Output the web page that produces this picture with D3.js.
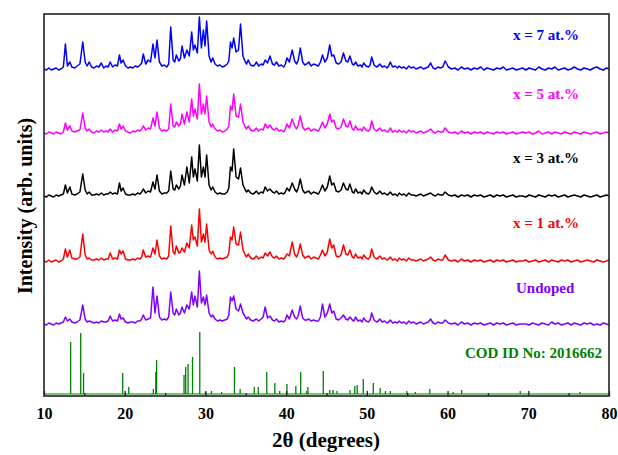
<!DOCTYPE html>
<html><head><meta charset="utf-8">
<script src="https://cdn.jsdelivr.net/npm/d3@7"></script>
<style>html,body{margin:0;padding:0;background:#fff;}svg{display:block;}</style>
</head><body><svg id="c" width="618" height="455"></svg>
<script>
// ---- DATA ----
const twoTheta = [
 10.0,10.3,10.6,10.9,11.2,11.5,11.8,12.1,12.4,
 12.65,12.9,13.2,13.45,13.8,14.1,14.45,
 14.8,15.1,15.35,15.6,15.9,16.2,16.5,16.8,17.1,17.4,17.7,17.95,
 18.2,18.5,18.8,19.1,19.35,19.55,19.8,20.1,20.4,20.7,21.0,21.3,21.6,21.9,22.1,
 22.3,22.6,22.9,23.2,23.5,23.75,24.0,24.3,24.6,24.9,25.2,25.45,
 25.7,26.0,26.2,26.4,26.7,26.9,27.1,27.4,27.7,28.0,
 28.3,28.5,28.7,29.0,29.25,29.5,29.75,29.95,30.15,30.45,30.7,
 30.9,31.2,31.5,31.8,32.1,32.4,32.7,32.9,
 33.1,33.3,33.5,33.8,34.1,34.35,34.65,34.95,35.1,35.3,35.6,35.9,36.1,
 36.3,36.6,36.9,37.15,37.4,37.7,38.0,38.3,38.55,38.8,39.1,39.4,39.7,39.9,
 40.1,40.4,40.75,41.05,41.3,41.5,41.75,42.05,42.3,42.55,42.8,43.1,43.4,43.7,44.0,44.25,
 44.5,44.8,45.1,45.4,45.65,45.9,46.2,46.5,46.8,47.1,47.4,47.65,47.9,48.2,48.4,
 48.6,48.9,49.2,49.4,49.6,49.9,50.2,50.4,50.6,50.9,51.2,51.4,51.6,51.9,52.2,52.5,52.7,52.9,53.2,53.5,53.8,
 54.0,54.3,54.6,54.9,55.2,55.5,55.8,56.1,56.4,56.7,57.0,57.3,57.6,57.9,58.2,58.5,58.8,59.1,59.4,
 59.7,60.1,60.5,60.9,61.3,61.7,62.1,62.5,62.9,63.3,63.7,64.1,64.5,64.9,65.3,65.7,66.1,66.5,66.9,67.3,67.7,68.1,68.5,68.9,69.3,
 69.7,70.1,70.5,70.9,71.3,71.7,72.1,72.5,72.9,73.3,73.7,74.1,74.5,74.9,75.3,75.7,76.1,76.5,76.9,77.3,77.7,78.1,78.5,78.9,79.3,79.7,80.0
];
const seriesNames = ["x = 7 at.%", "x = 5 at.%", "x = 3 at.%", "x = 1 at.%", "Undoped"];
const seriesColors = ["#0000ff", "#ff00ff", "#000000", "#ff0000", "#8000ff"];
const seriesOffsets = [326, 262, 199, 134, 71];
const x7 = [
 1,0,2,0,1,2,0,1,3,
 26,4,8,3,2,4,6,
 28,8,4,8,3,2,4,3,7,2,4,3,
 8,3,5,4,15,7,10,4,2,3,2,4,3,5,7,
 16,6,10,8,26,12,30,8,4,5,3,6,
 43,10,8,15,9,11,24,12,20,14,
 38,20,25,17,53,22,40,24,49,14,8,
 12,6,4,5,3,4,6,9,
 28,22,32,18,20,46,14,8,6,10,5,4,5,
 8,4,6,5,10,7,14,6,5,8,4,5,3,6,
 12,8,20,9,6,10,22,8,5,6,8,4,6,5,4,8,
 15,8,12,25,14,15,7,6,8,17,9,8,14,6,5,
 8,4,5,3,7,4,3,5,13,5,3,4,6,3,4,2,4,8,3,4,2,
 4,2,3,1,4,2,3,1,2,3,1,2,3,7,2,1,3,2,3,
 9,3,1,2,0,3,1,2,0,2,1,3,0,2,1,0,2,1,3,0,1,2,0,1,2,
 0,2,1,0,3,1,0,2,1,3,0,1,2,0,1,3,1,0,2,1,0,2,3,1,0,2,1
];
const x5 = [
 1,0,2,1,0,2,1,0,2,
 11,4,8,3,2,3,4,
 21,6,3,5,2,1,3,2,4,2,3,2,
 5,2,4,3,10,5,8,3,2,1,3,2,4,3,5,
 8,4,6,5,16,8,22,6,3,4,3,5,
 30,8,7,12,8,10,20,10,22,12,
 35,18,25,15,50,20,30,20,38,12,7,
 10,5,3,4,2,3,5,8,
 28,24,40,18,17,30,12,7,5,8,4,3,4,
 6,3,5,4,10,6,9,5,4,6,3,4,2,5,
 10,6,15,8,5,9,18,7,4,5,6,3,5,4,3,7,
 12,6,10,20,12,14,6,5,7,15,8,7,13,5,4,
 8,4,5,3,7,4,3,5,13,5,3,4,6,3,4,2,3,6,2,3,2,
 4,2,3,1,4,2,3,1,2,3,1,2,3,5,2,1,3,2,2,
 6,2,1,2,0,3,1,2,0,2,1,2,0,2,1,0,2,1,2,0,1,2,0,1,2,
 1,2,0,1,3,0,1,2,0,2,1,0,2,1,0,2,1,0,2,1,0,1,2,0,1,2,1
];
const x3 = [
 1,0,2,1,0,2,1,2,3,
 12,4,10,3,2,3,5,
 23,7,3,5,2,2,3,2,4,2,3,3,
 5,3,4,3,14,6,9,3,2,2,3,2,4,3,5,
 8,4,6,5,15,8,22,6,3,4,4,6,
 26,8,7,12,8,11,22,12,30,14,
 40,20,28,16,52,20,30,20,42,12,7,
 10,5,3,4,3,3,5,9,
 30,26,48,20,18,29,12,7,5,7,4,3,4,
 6,3,5,4,10,6,8,5,4,6,3,4,3,5,
 9,6,14,8,5,9,18,7,4,5,6,3,5,4,3,7,
 12,6,10,21,12,14,6,5,7,14,8,7,13,5,4,
 8,4,5,3,7,4,3,5,10,5,3,4,6,3,4,2,3,5,2,3,1,
 4,2,3,1,4,2,2,1,2,3,1,2,3,4,2,1,3,2,2,
 5,2,1,2,0,2,1,2,0,2,1,2,0,1,2,0,2,1,2,0,1,2,0,1,1,
 0,2,1,0,2,1,0,2,1,2,0,1,2,0,1,2,1,0,2,1,0,1,2,0,1,2,1
];
const x1 = [
 1,0,2,0,1,2,0,1,3,
 13,5,12,4,3,3,5,
 28,7,3,4,2,2,3,2,4,2,3,3,
 9,3,4,3,12,8,11,3,2,2,3,2,4,3,5,
 12,5,6,5,14,8,22,6,3,4,3,6,
 36,10,8,16,9,10,14,10,19,14,
 37,22,25,16,53,20,28,20,38,12,8,
 11,5,3,4,3,4,5,9,
 25,22,35,18,17,30,12,7,5,8,4,3,4,
 6,3,5,4,9,6,10,5,4,6,3,4,3,5,
 8,6,20,8,5,9,18,7,4,5,6,3,5,4,3,7,
 12,6,10,23,14,17,6,5,7,17,8,7,12,5,4,
 8,4,5,3,7,4,3,5,13,5,3,4,6,3,4,2,3,5,2,3,1,
 4,2,3,1,4,2,2,1,2,3,1,2,3,5,2,1,3,2,2,
 7,2,1,2,0,3,1,2,0,2,1,2,0,1,2,0,2,1,2,0,1,2,0,1,1,
 2,0,1,2,0,1,2,0,2,1,0,2,1,2,0,1,2,0,1,2,1,0,2,1,0,1,2
];
const undoped = [
 1,0,2,1,0,2,1,2,3,
 8,4,6,3,2,3,5,
 20,6,3,4,3,2,3,2,4,3,3,4,
 9,4,5,4,11,6,7,3,2,3,3,2,4,4,6,
 10,5,6,7,38,12,29,8,5,6,5,8,
 33,12,10,16,10,12,18,12,20,16,
 33,20,29,18,54,22,28,20,30,12,8,
 10,6,4,5,4,5,6,10,
 28,24,29,16,14,21,12,8,6,8,5,4,5,
 6,4,6,8,18,7,9,5,4,6,3,4,3,5,
 10,6,15,8,6,9,19,7,5,5,6,4,5,4,4,8,
 21,8,12,21,12,14,6,5,7,10,6,5,8,5,4,
 8,4,5,3,7,4,3,5,12,5,3,4,6,3,4,2,3,5,2,3,2,
 4,2,3,1,4,2,3,1,2,3,1,2,3,6,2,1,3,2,2,
 5,2,1,2,0,3,1,2,0,2,1,2,0,1,2,0,2,1,2,0,1,2,0,1,1,
 1,0,2,1,0,2,1,0,3,1,2,0,1,2,0,2,1,0,2,1,2,0,1,0,2,1,0
];
const codName = "COD ID No: 2016662";
const codColor = "#008000";
const codOffset = 2;
const codPos = [13.3,14.55,14.9,19.75,20.5,23.55,23.85,23.95,27.35,27.55,27.85,28.4,29.3,30.0,30.75,32.0,33.6,34.3,36.05,36.55,37.6,38.6,39.2,40.1,41.2,41.8,42.55,42.7,44.6,45.4,45.8,46.3,47.9,48.5,48.8,49.55,50.8,51.65,52.3,52.9,54.95,56.0,57.8,60.7,61.75,69.0,76.4];
const codInt = [52,61,21,21,7,5,22,34,19,27,30,37,62,2,3,2,27,5,7,7,22,11,3,10,8,22,3,7,23,4,4,3,4,8,9,15,11,6,3,3,3,2,5,2,4,3,2];
const xTicks = [10,20,30,40,50,60,70,80];
const xMinorTicks = [15,25,35,45,55,65,75];
const xTitle = "2θ (degrees)";
const yTitle = "Intensity (arb. units)";

// ---- CHART ----
const svg = d3.select("#c");
const L = 44, R = 609, T = 14, B = 396;
const x = d3.scaleLinear().domain([10, 80]).range([L, R]);
const y = d3.scaleLinear().domain([0, B - T]).range([B, T]);
const font = "'Liberation Serif','Times New Roman',serif";

const seriesData = [x7, x5, x3, x1, undoped];
const line = d3.line().x(d => x(d[0])).y(d => y(d[1]));
seriesData.forEach((vals, i) => {
  const pts = twoTheta.map((t, k) => [t, vals[k] + seriesOffsets[i]]);
  svg.append("path").attr("d", line(pts)).attr("fill", "none")
    .attr("stroke", seriesColors[i]).attr("stroke-width", 1.5).attr("stroke-linejoin", "round");
});

// COD stick pattern
svg.append("line").attr("x1", x(10)).attr("x2", x(80)).attr("y1", y(codOffset)).attr("y2", y(codOffset))
  .attr("stroke", codColor).attr("stroke-width", 1.2);
svg.append("g").selectAll("line").data(codPos.map((p, i) => [p, codInt[i]])).join("line")
  .attr("x1", d => x(d[0])).attr("x2", d => x(d[0]))
  .attr("y1", y(codOffset)).attr("y2", d => y(codOffset + d[1]))
  .attr("stroke", codColor).attr("stroke-width", 1.3);

// frame
svg.append("rect").attr("x", L).attr("y", T).attr("width", R - L).attr("height", B - T)
  .attr("fill", "none").attr("stroke", "#222").attr("stroke-width", 1.6);

// x axis
const ax = svg.append("g").attr("transform", `translate(0,${B})`)
  .call(d3.axisBottom(x).tickValues(xTicks).tickFormat(d3.format("d")).tickSize(-5).tickPadding(12));
ax.select(".domain").remove();
ax.selectAll(".tick line").attr("stroke", "#222").attr("stroke-width", 1.3);
ax.selectAll("text").attr("font-family", font).attr("font-weight", "bold").attr("font-size", 16).attr("fill", "#000");
const axm = svg.append("g").attr("transform", `translate(0,${B})`)
  .call(d3.axisBottom(x).tickValues(xMinorTicks).tickFormat("").tickSize(-3));
axm.select(".domain").remove();
axm.selectAll(".tick line").attr("stroke", "#222").attr("stroke-width", 1.3);

svg.append("text").attr("x", 326).attr("y", 447).attr("text-anchor", "middle")
  .attr("font-family", font).attr("font-weight", "bold").attr("font-size", 21).text(xTitle);
svg.append("text").attr("transform", "translate(32,206) rotate(-90)").attr("text-anchor", "middle")
  .attr("font-family", font).attr("font-weight", "bold").attr("font-size", 20).text(yTitle);

// labels
const labelPos = [[513, 40], [513, 99], [513, 163], [513, 228], [516, 293]];
seriesNames.forEach((n, i) => {
  svg.append("text").attr("x", labelPos[i][0]).attr("y", labelPos[i][1])
    .attr("font-family", font).attr("font-weight", "bold").attr("font-size", 15)
    .attr("fill", seriesColors[i]).text(n);
});
svg.append("text").attr("x", 465).attr("y", 358).attr("font-family", font).attr("font-weight", "bold")
  .attr("font-size", 15).attr("fill", codColor).text(codName);
</script></body></html>
